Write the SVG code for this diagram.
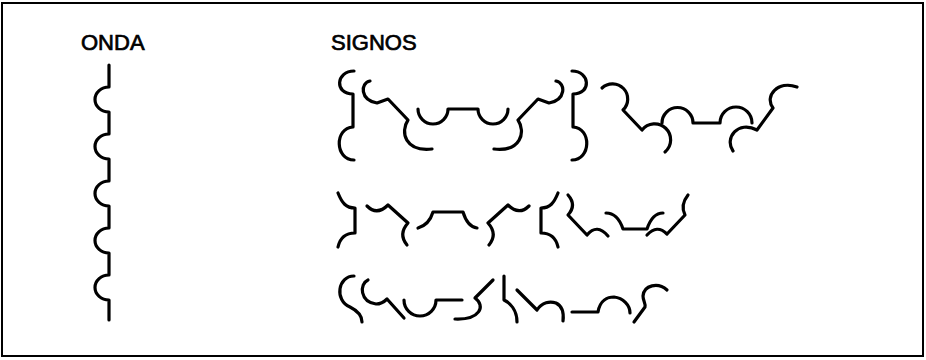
<svg xmlns="http://www.w3.org/2000/svg" width="926" height="360" viewBox="0 0 926 360">
<style>
.s{fill:none;stroke:#000;stroke-width:3.2;stroke-linecap:round;stroke-linejoin:round}
.t{font-family:"Liberation Sans",Arial,sans-serif;font-size:22px;fill:#000;stroke:#000;stroke-width:0.7}
</style>
<rect x="2" y="3" width="921" height="353" fill="#fff" stroke="#000" stroke-width="2"/>
<g id="labels">
<text class="t" x="81" y="50">ONDA</text>
<text class="t" x="331" y="50">SIGNOS</text>
</g>
<g id="onda">
<path class="s" d="M109,65 V87 A14,12.5 0 0 0 109,112 V134 A14,12.5 0 0 0 109,159 V181 A14,12.5 0 0 0 109,206 V228 A14,12.5 0 0 0 109,253 V275 A14,12.5 0 0 0 109,300 V320"/>
</g>
<g id="signos-row1">
<path class="s" d="M354,71 C336,71 334,94 353,94 L353,127 C334,128 335,160 354,160"/>
<path class="s" d="M370,81 C360,83 360,100 377,103 L388,99 L408,120 C400,132 405,152 432,149"/>
<path class="s" d="M418,109 A15,15 0 0 0 448,109 L478,109 A15,15 0 0 0 508,109"/>
<path class="s" d="M556,81 C566,83 566,100 549,103 L538,99 L518,120 C526,132 521,152 494,149"/>
<path class="s" d="M572,71 C590,71 592,94 573,94 L573,127 C592,128 591,160 572,160"/>
<path class="s" d="M602,88 A15,15 0 1 1 623,110 L642,130 A16,16 0 1 1 665,152"/>
<path class="s" d="M662,123 A15.5,15.5 0 0 1 693,123 L720,123 A16,16 0 0 1 752,123"/>
<path class="s" d="M733,151 C724,138 738,120 757,130 L773,108 C764,96 778,80 797,87"/>
</g>
<g id="signos-row2">
<path class="s" d="M338,193 C342,203 346,208 355,208 L355,233 C346,233 340,238 338,247"/>
<path class="s" d="M367,206 Q377,216 388,205 L408,223 Q398,234 407,245"/>
<path class="s" d="M418,228 C425,226 430,222 433,212 L463,212 C466,222 470,227 477,228"/>
<path class="s" d="M529,206 Q519,216 508,205 L488,223 Q498,234 489,245"/>
<path class="s" d="M558,193 C554,203 550,208 541,208 L541,233 C550,233 556,238 558,247"/>
<path class="s" d="M568,195 Q577,205 568,215 L587,235 Q597,223 608,236"/>
<path class="s" d="M606,213 C615,213 620,220 623,229 L647,229 C650,220 655,213 663,213"/>
<path class="s" d="M647,235 Q657,224 667,234 L685,215 Q680,205 688,195"/>
</g>
<g id="signos-row3">
<path class="s" d="M354,276 C338,276 334,300 350,307 C358,311 362,315 362,322"/>
<path class="s" d="M368,280 C359,284 360,302 376,304 Q382,304 387,299 L404,318"/>
<path class="s" d="M404,300 A16,16 0 0 0 436,300 L462,300"/>
<path class="s" d="M493,280 L475,298 C486,306 480,320 455,319"/>
<path class="s" d="M504,276 V300 C510,303 517,310 517,322"/>
<path class="s" d="M517,290 L537,310 C542,302 550,301 556,303 C562,306 564,313 563,321"/>
<path class="s" d="M572,312 L598,312 C600,300 608,297 614,297 C623,298 630,305 630,313"/>
<path class="s" d="M667,290 C658,282 644,285 643,296 C643,301 646,304 645,307 L634,322"/>
</g>
</svg>
